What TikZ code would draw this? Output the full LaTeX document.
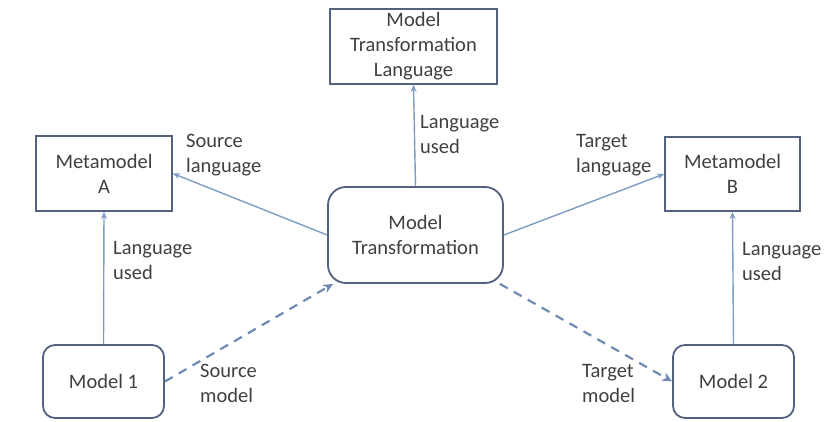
\documentclass[tikz,border=0pt]{standalone}
\usepackage{fontspec}
\setmainfont{Carlito}
\usetikzlibrary{arrows.meta}
\definecolor{txt}{HTML}{404040}
\definecolor{boxc}{HTML}{55627F}
\definecolor{arrc}{HTML}{7F9CC4}
\definecolor{dashc}{HTML}{6E8BB3}
\tikzset{
  box/.style={draw=boxc, line width=1.8pt, fill=white, align=center, text=txt, inner sep=0pt,
    font=\fontsize{20.5}{25}\selectfont},
  rbox/.style={box, rounded corners=12pt},
  arr/.style={draw=arrc, line width=1.4pt, -{Stealth[length=7pt,width=6pt]}},
  darr/.style={draw=dashc, line width=2.2pt, dash pattern=on 9pt off 7pt, -{Stealth[length=10pt,width=9pt]}},
  lbl/.style={align=left, text=txt, inner sep=0pt, anchor=west, font=\fontsize{20.5}{25}\selectfont}
}
\begin{document}
\begin{tikzpicture}[x=1pt,y=-1pt]
\useasboundingbox (0,0) rectangle (831,422);
\node[box, minimum width=167pt, minimum height=75pt] (MTL) at (413.5,46.5) {Model\\Transformation\\Language};
\node[box, minimum width=136pt, minimum height=75pt] (A) at (104,173.5) {Metamodel\\A};
\node[box, minimum width=135pt, minimum height=74pt] (B) at (732.5,174) {Metamodel\\B};
\node[box, rounded corners=18pt, minimum width=175pt, minimum height=96pt] (MT) at (415.5,235) {Model\\Transformation};
\node[rbox, minimum width=121pt, minimum height=73pt] (M1) at (103.5,381.5) {Model 1};
\node[rbox, minimum width=121pt, minimum height=73pt] (M2) at (733.5,381.5) {Model 2};

\draw[arr] (MT.north) -- (MTL.south);
\draw[arr] (MT.west) -- (A.east);
\draw[arr] (MT.east) -- (B.west);
\draw[arr] (M1.north) -- (A.south);
\draw[arr] (M2.north) -- (B.south);
\draw[darr] (M1.east) -- ([xshift=6pt]MT.south west);
\draw[darr] ([xshift=-4pt]MT.south east) -- (M2.west);

\node[lbl] (l1) at (420,135) {Language\\used};
\node[lbl] (l2) at (186,155) {Source\\language};
\node[lbl] (l3) at (576,155) {Target\\language};
\node[lbl] (l4) at (113,260) {Language\\used};
\node[lbl] (l5) at (742,261) {Language\\used};
\node[lbl] (l6) at (200,383) {Source\\model};
\node[lbl] (l7) at (582,383) {Target\\model};
\end{tikzpicture}
\end{document}
